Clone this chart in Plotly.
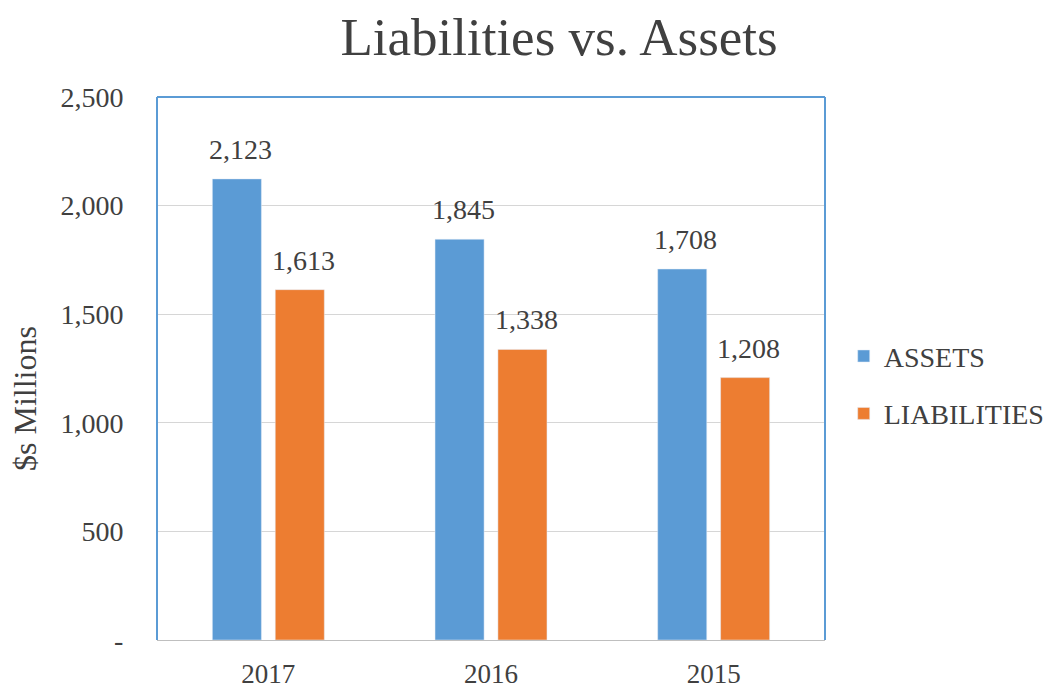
import plotly.graph_objects as go

years = ["2017", "2016", "2015"]
assets = [2123, 1845, 1708]
liabilities = [1613, 1338, 1208]
ytick_vals = [0, 500, 1000, 1500, 2000, 2500]
ytick_text = ["-", "500", "1,000", "1,500", "2,000", "2,500"]

BLUE = "#5B9BD5"
ORANGE = "#ED7D31"
TXT = "#404040"
FONT = "Liberation Serif"
CLEAR = "rgba(0,0,0,0)"

fig = go.Figure()
fig.add_trace(go.Bar(x=years, y=assets, name="ASSETS", marker_color=BLUE,
                     legendgroup="a"))
fig.add_trace(go.Bar(x=years, y=liabilities, name="LIABILITIES", marker_color=ORANGE,
                     legendgroup="l"))

annotations = []
for series, shift in ((assets, -28), (liabilities, 35)):
    for idx, v in enumerate(series):
        annotations.append(dict(x=idx, y=v, xref="x", yref="y", text=f"{v:,}",
                                showarrow=False, xshift=shift, yshift=12,
                                yanchor="bottom",
                                font=dict(family=FONT, size=28, color=TXT)))
annotations.append(dict(text="$s Millions", textangle=-90, showarrow=False,
                        xref="paper", yref="paper", x=(25 - 157) / 668,
                        y=(640 - 399) / 543, xanchor="center", yanchor="middle",
                        font=dict(family=FONT, size=32, color=TXT)))

fig.update_layout(
    width=1061, height=692,
    margin=dict(l=149, r=244, t=89, b=60),
    paper_bgcolor="white", plot_bgcolor="white",
    barmode="group", bargap=0.435, bargroupgap=0.22,
    title=dict(text="Liabilities vs. Assets", x=551 / 1061, xanchor="center",
               y=1 - 28 / 692, yanchor="middle",
               font=dict(family=FONT, size=53, color=TXT)),
    font=dict(family=FONT, color=TXT),
    legend=dict(x=1.028, xanchor="left", y=0.47, yanchor="middle",
                font=dict(family=FONT, size=28, color=TXT),
                tracegroupgap=18, itemwidth=30),
    annotations=annotations,
    shapes=[
        dict(type="line", xref="paper", yref="paper", x0=0, x1=0, y0=0, y1=1,
             line=dict(color=BLUE, width=2)),
        dict(type="line", xref="paper", yref="paper", x0=0, x1=1, y0=1, y1=1,
             line=dict(color=BLUE, width=2)),
        dict(type="line", xref="paper", yref="paper", x0=1, x1=1, y0=0, y1=1,
             line=dict(color=BLUE, width=2)),
    ],
)
fig.update_yaxes(range=[0, 2500], tickvals=ytick_vals, ticktext=ytick_text,
                 showgrid=True, gridcolor="#D6D6D6", gridwidth=1,
                 zeroline=True, zerolinecolor="#BFBFBF", zerolinewidth=1,
                 tickfont=dict(family=FONT, size=28, color=TXT),
                 ticks="outside", ticklen=27, tickcolor=CLEAR, automargin=False)
fig.update_xaxes(type="category", categoryorder="array", categoryarray=years,
                 range=[-0.5, len(years) - 0.5],
                 tickfont=dict(family=FONT, size=27, color=TXT),
                 ticks="outside", ticklen=10, tickcolor=CLEAR,
                 showline=False, automargin=False)

fig.write_html("out.html")
